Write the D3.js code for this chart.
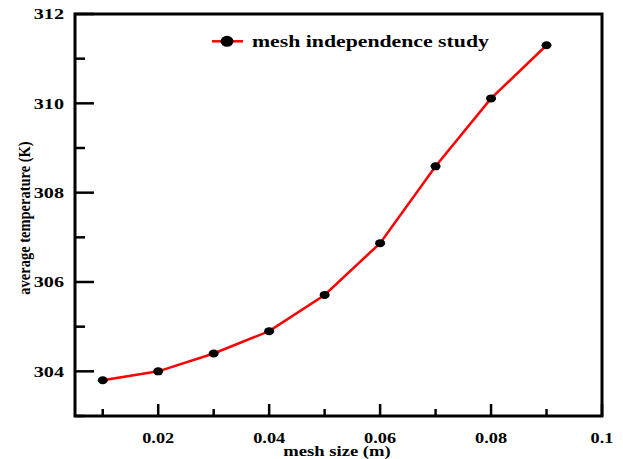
<!DOCTYPE html>
<html>
<head>
<meta charset="utf-8">
<script src="https://cdn.jsdelivr.net/npm/d3@7"></script>
<style>
  html, body { margin: 0; padding: 0; background: #fff; }
  svg { display: block; }
  text { font-family: "Liberation Serif", serif; }
</style>
</head>
<body>
<script>
// ---- data ----
const meshSize = [0.01, 0.02, 0.03, 0.04, 0.05, 0.06, 0.07, 0.08, 0.09];
const avgTemp  = [303.80, 304.00, 304.40, 304.90, 305.71, 306.87, 308.59, 310.11, 311.30];
const xMajorTicks = [0.02, 0.04, 0.06, 0.08, 0.1];
const xMinorTicks = [0.01, 0.03, 0.05, 0.07, 0.09];
const xTickLabels = ["0.02", "0.04", "0.06", "0.08", "0.1"];
const yMajorTicks = [304, 306, 308, 310, 312];
const yMinorTicks = [303, 305, 307, 309, 311];
const yTickLabels = ["304", "306", "308", "310", "312"];
const seriesName = "mesh independence study";
const xTitle = "mesh size (m)";
const yTitle = "average temperature (K)";

const W = 623, H = 459;
const L = 75, R = 602, T = 14, B = 416;

const svg = d3.select("body").append("svg").attr("width", W).attr("height", H);

const x = d3.scaleLinear().domain([0.005, 0.1]).range([L, R]);
const y = d3.scaleLinear().domain([303, 312]).range([B, T]);

// inward ticks
const axisG = svg.append("g");
axisG.selectAll("line.xmaj").data(xMajorTicks).join("line")
  .attr("x1", d => x(d)).attr("x2", d => x(d))
  .attr("y1", B).attr("y2", B - 12)
  .attr("stroke", "#000").attr("stroke-width", 2.5);
axisG.selectAll("line.xmin").data(xMinorTicks).join("line")
  .attr("x1", d => x(d)).attr("x2", d => x(d))
  .attr("y1", B).attr("y2", B - 7)
  .attr("stroke", "#000").attr("stroke-width", 2.5);
axisG.selectAll("line.ymaj").data(yMajorTicks).join("line")
  .attr("x1", L).attr("x2", L + 19)
  .attr("y1", d => y(d)).attr("y2", d => y(d))
  .attr("stroke", "#000").attr("stroke-width", 2.5);
axisG.selectAll("line.ymin").data(yMinorTicks).join("line")
  .attr("x1", L).attr("x2", L + 10)
  .attr("y1", d => y(d)).attr("y2", d => y(d))
  .attr("stroke", "#000").attr("stroke-width", 2.5);

// frame
svg.append("rect").attr("x", L).attr("y", T).attr("width", R - L).attr("height", B - T)
  .attr("fill", "none").attr("stroke", "#000").attr("stroke-width", 3);

// tick labels
svg.selectAll("text.xl").data(xMajorTicks).join("text")
  .attr("transform", d => `translate(${x(d)},443) scale(1.18,1)`)
  .attr("text-anchor", "middle")
  .attr("font-size", 15.5).attr("font-weight", "bold")
  .text((d, i) => xTickLabels[i]);
svg.selectAll("text.yl").data(yMajorTicks).join("text")
  .attr("transform", d => `translate(64,${y(d) + 5.2}) scale(1.3,1)`)
  .attr("text-anchor", "end")
  .attr("font-size", 15.5).attr("font-weight", "bold")
  .text((d, i) => yTickLabels[i]);

// axis titles
svg.append("text")
  .attr("transform", `translate(337,456) scale(1.2,1)`)
  .attr("text-anchor", "middle")
  .attr("font-size", 15.5).attr("font-weight", "bold")
  .text(xTitle);
svg.append("text")
  .attr("transform", "translate(29.5,218) rotate(-90) scale(1,1.2)")
  .attr("text-anchor", "middle")
  .attr("font-size", 14.5).attr("font-weight", "bold")
  .text(yTitle);

// series
const pts = meshSize.map((m, i) => [m, avgTemp[i]]);
svg.append("path").datum(pts)
  .attr("d", d3.line().x(d => x(d[0])).y(d => y(d[1])))
  .attr("fill", "none").attr("stroke", "#ff0000").attr("stroke-width", 2.5);
svg.selectAll("ellipse.pt").data(pts).join("ellipse")
  .attr("cx", d => x(d[0])).attr("cy", d => y(d[1]))
  .attr("rx", 5).attr("ry", 4).attr("fill", "#000");

// legend
const lg = svg.append("g");
lg.append("line").attr("x1", 212).attr("x2", 243).attr("y1", 41.3).attr("y2", 41.3)
  .attr("stroke", "#ff0000").attr("stroke-width", 2.5);
lg.append("ellipse").attr("cx", 227).attr("cy", 41.3).attr("rx", 6.5).attr("ry", 5.5).attr("fill", "#000");
lg.append("text")
  .attr("transform", "translate(252,47) scale(1.28,1)")
  .attr("font-size", 17).attr("font-weight", "bold")
  .text(seriesName);
</script>
</body>
</html>
